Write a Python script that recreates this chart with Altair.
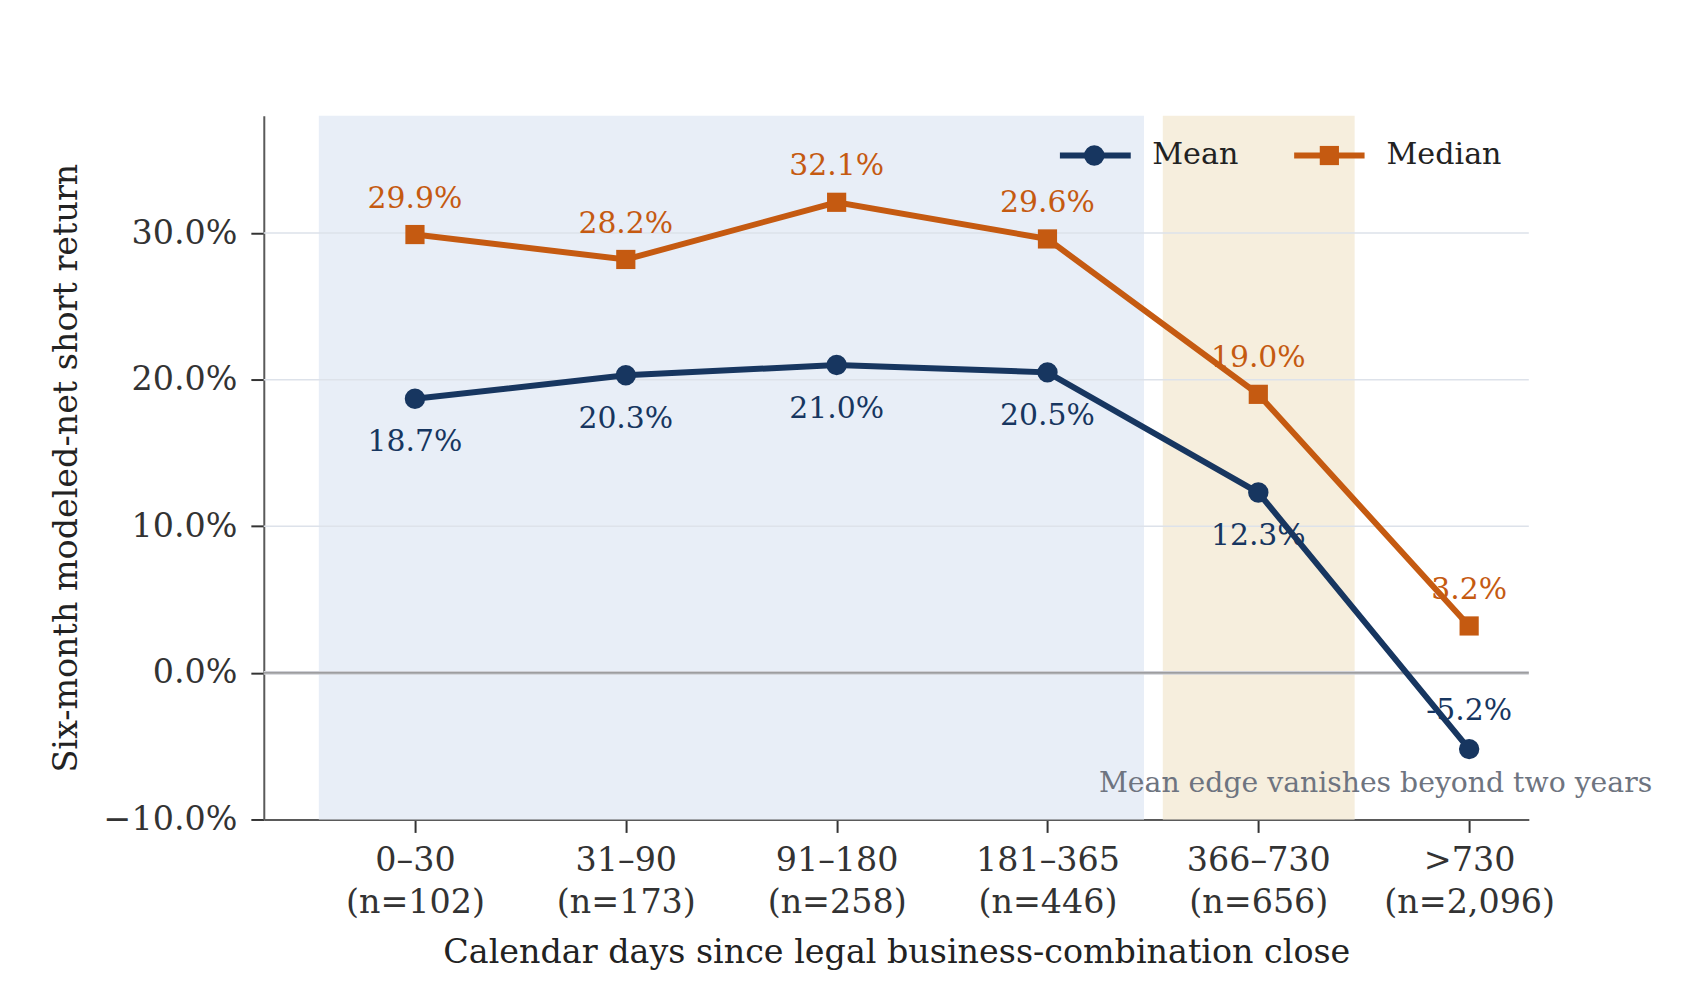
import altair as alt
import pandas as pd

# ---- data ----
categories = ["0–30", "31–90", "91–180", "181–365", "366–730", ">730"]
counts = ["(n=102)", "(n=173)", "(n=258)", "(n=446)", "(n=656)", "(n=2,096)"]
mean_vals = [18.7, 20.3, 21.0, 20.5, 12.3, -5.2]
median_vals = [29.9, 28.2, 32.1, 29.6, 19.0, 3.2]
grid_vals = [10, 20, 30]
zero_val = [0]
band_start = [-0.456, 3.547]
band_end = [3.458, 4.457]
band_names = ["early", "late"]
y_ticks = [-10, 0, 10, 20, 30]
series_names = ["Mean", "Median"]
legend_line_start = [3.059, 4.170]
legend_line_end = [3.395, 4.504]
legend_marker_x = [3.222, 4.337]
legend_text_x = [3.497, 4.608]
legend_y = [35.29, 35.29]
note_text = ["Mean edge vanishes beyond two years"]
note_x = [4.556]
note_y = [-7.5]

NAVY = "#173660"
ORANGE = "#c55a11"
FONT = "DejaVu Serif"

W, H = 1271, 707
x_dom = [-0.717, 5.283]
y_dom = [-10, 38]

xs = alt.Scale(domain=x_dom, nice=False, zero=False)
ys = alt.Scale(domain=y_dom, nice=False, zero=False)

rows = []
for i, c in enumerate(categories):
    rows.append({"i": i, "series": "Mean", "v": mean_vals[i], "lab": f"{mean_vals[i]:.1f}%"})
    rows.append({"i": i, "series": "Median", "v": median_vals[i], "lab": f"{median_vals[i]:.1f}%"})
df = pd.DataFrame(rows)

bands = pd.DataFrame({"b": band_names, "x0": band_start, "x1": band_end})
grid = pd.DataFrame({"y": grid_vals})
zero = pd.DataFrame({"y": zero_val})
leg = pd.DataFrame({"series": series_names, "x0": legend_line_start, "x1": legend_line_end,
                    "xm": legend_marker_x, "xt": legend_text_x, "y": legend_y})
note = pd.DataFrame({"t": note_text, "x": note_x, "y": note_y})

color_scale = alt.Scale(domain=series_names, range=[NAVY, ORANGE])
shape_scale = alt.Scale(domain=series_names, range=["circle", "square"])
size_scale = alt.Scale(domain=series_names, range=[420, 372])

label_arr = "[" + ",".join(f"['{c}','{n}']" for c, n in zip(categories, counts)) + "]"

x_axis = alt.Axis(values=list(range(len(categories))), labelExpr=f"{label_arr}[round(datum.value)]",
                  title="Calendar days since legal business-combination close",
                  grid=False, labelLineHeight=42, labelPadding=12, titlePadding=18.5)
y_axis = alt.Axis(values=y_ticks, labelExpr="format(datum.value, '.1f') + '%'",
                  title="Six-month modeled-net short return", grid=False,
                  labelPadding=14, titlePadding=20)

band_layer = alt.Chart(bands).mark_rect().encode(
    x=alt.X("x0:Q", scale=xs, axis=x_axis),
    x2="x1:Q",
    color=alt.Color("b:N", scale=alt.Scale(domain=band_names, range=["#e8eef7", "#f6eedd"]), legend=None),
)

grid_layer = alt.Chart(grid).mark_rule(color="#dde2ea", strokeWidth=1.6).encode(
    y=alt.Y("y:Q", scale=ys, axis=y_axis)
)

zero_layer1 = alt.Chart(zero).mark_rule(color="#cfd0d6", strokeWidth=4).encode(y=alt.Y("y:Q", scale=ys))
zero_layer2 = alt.Chart(zero).mark_rule(color="#8c8c8c", strokeWidth=1.4).encode(y=alt.Y("y:Q", scale=ys))

def label_layer(filt, dy):
    return alt.Chart(df).transform_filter(filt).mark_text(
        font=FONT, fontSize=30, dy=dy, baseline="middle", align="center"
    ).encode(x=alt.X("i:Q", scale=xs), y=alt.Y("v:Q", scale=ys), text="lab:N",
             color=alt.Color("series:N", scale=color_scale, legend=None))

mean_text = label_layer("datum.series == 'Mean' && datum.v >= 0", 44)
mean_text_neg = label_layer("datum.series == 'Mean' && datum.v < 0", -38)
median_text = label_layer("datum.series == 'Median'", -36)

note_layer = alt.Chart(note).mark_text(
    font=FONT, fontSize=28.4, color="#6e7480", baseline="middle", align="center"
).encode(x=alt.X("x:Q", scale=xs), y=alt.Y("y:Q", scale=ys), text="t:N")

lines = alt.Chart(df).mark_line(strokeWidth=6).encode(
    x=alt.X("i:Q", scale=xs), y=alt.Y("v:Q", scale=ys),
    color=alt.Color("series:N", scale=color_scale, legend=None),
    detail="series:N",
)

points = alt.Chart(df).mark_point(filled=True, opacity=1).encode(
    x=alt.X("i:Q", scale=xs), y=alt.Y("v:Q", scale=ys),
    color=alt.Color("series:N", scale=color_scale, legend=None),
    shape=alt.Shape("series:N", scale=shape_scale, legend=None),
    size=alt.Size("series:N", scale=size_scale, legend=None),
)

leg_lines = alt.Chart(leg).mark_rule(strokeWidth=6).encode(
    x=alt.X("x0:Q", scale=xs), x2="x1:Q", y=alt.Y("y:Q", scale=ys),
    color=alt.Color("series:N", scale=color_scale, legend=None),
)
leg_points = alt.Chart(leg).mark_point(filled=True, opacity=1).encode(
    x=alt.X("xm:Q", scale=xs), y=alt.Y("y:Q", scale=ys),
    color=alt.Color("series:N", scale=color_scale, legend=None),
    shape=alt.Shape("series:N", scale=shape_scale, legend=None),
    size=alt.Size("series:N", scale=size_scale, legend=None),
)
leg_text = alt.Chart(leg).mark_text(font=FONT, fontSize=30.3, color="#222222", align="left",
                                    baseline="middle").encode(
    x=alt.X("xt:Q", scale=xs), y=alt.Y("y:Q", scale=ys), text="series:N"
)

chart = alt.layer(
    band_layer, grid_layer, zero_layer1, zero_layer2, mean_text, mean_text_neg, median_text,
    note_layer, lines, points, leg_lines, leg_points, leg_text
).resolve_scale(color="independent").properties(
    width=W, height=H,
    background="white",
    autosize=alt.AutoSizeParams(type="none"),
    padding={"left": 257, "top": 106, "right": 172, "bottom": 163},
).configure_view(stroke=None).configure_axis(
    labelFont=FONT, titleFont=FONT, labelFontSize=33.5, titleFontSize=33.5,
    labelColor="#333333", titleColor="#222222", titleFontWeight="normal",
    domainColor="#5a5a5a", domainWidth=2, tickColor="#333333", tickWidth=2, tickSize=13,
    labelOverlap=False, labelBound=False, labelFlush=False,
)

chart.save("out.html", embed_options={"renderer": "svg", "actions": False})
